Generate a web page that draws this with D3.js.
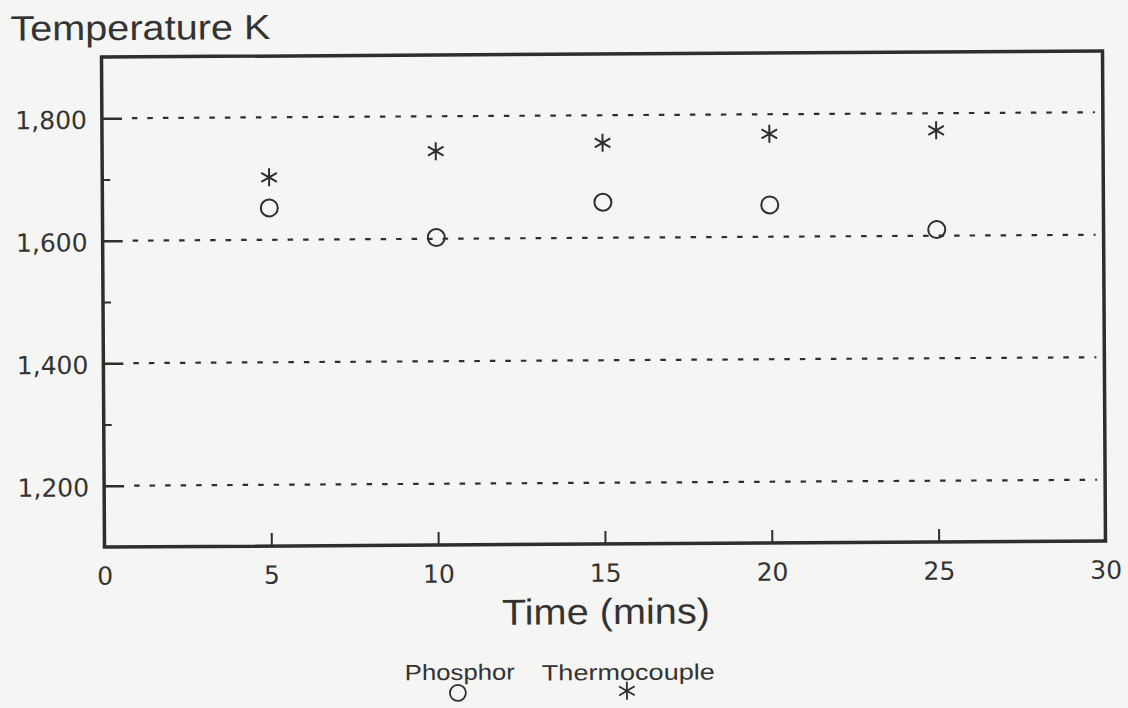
<!DOCTYPE html>
<html>
<head>
<meta charset="utf-8">
<script src="https://cdn.jsdelivr.net/npm/d3@7"></script>
<style>
  html, body { margin: 0; padding: 0; background: #f5f5f4; }
  svg { display: block; }
</style>
</head>
<body>
<svg id="chart" width="1128" height="708"></svg>
<script>
// Measurements: temperature (K) against time (minutes)
const times = [5, 10, 15, 20, 25];
const phosphor = [1652, 1602, 1658, 1652, 1610];
const thermocouple = [1702, 1743, 1755, 1768, 1772];

const xTicks = [0, 5, 10, 15, 20, 25, 30];
const yMajorTicks = [1200, 1400, 1600, 1800];
const yMinorTicks = [1300, 1500, 1700];
const xDomain = [0, 30];
const yDomain = [1100, 1900];

const W = 1128, H = 708;
const plot = { left: 103, right: 1104, top: 54, bottom: 544 };
const ink = "#2e2e2e";
const sans = "'Liberation Sans', Arial, sans-serif";
const tickFont = "'DejaVu Sans', sans-serif";

const x = d3.scaleLinear().domain(xDomain).range([plot.left, plot.right]);
const y = d3.scaleLinear().domain(yDomain).range([plot.bottom, plot.top]);

const svg = d3.select("#chart");
svg.append("rect").attr("width", W).attr("height", H).attr("fill", "#f5f5f4");

// the printed page sits very slightly askew
const g = svg.append("g").attr("transform", "rotate(-0.35 604 300)");

// dotted horizontal guides at the major temperatures
g.append("g").selectAll("line").data(yMajorTicks).join("line")
  .attr("x1", 133).attr("x2", 1096)
  .attr("y1", d => y(d)).attr("y2", d => y(d))
  .attr("stroke", ink).attr("stroke-width", 2.2)
  .attr("stroke-dasharray", "5.5 10");

// y axis: inward major ticks with labels, plus short minor ticks
const yAxis = g.append("g").attr("transform", `translate(${plot.left},0)`)
  .call(d3.axisLeft(y).tickValues(yMajorTicks).tickSizeInner(-20).tickSizeOuter(0)
    .tickPadding(15).tickFormat(d3.format(",")));
yAxis.select(".domain").remove();
yAxis.selectAll(".tick line").attr("stroke", ink).attr("stroke-width", 2.5);
yAxis.selectAll(".tick text")
  .attr("font-family", tickFont).attr("font-size", 25)
  .attr("fill", "#333").attr("dy", "0.4em");

const yMinor = g.append("g").attr("transform", `translate(${plot.left},0)`)
  .call(d3.axisLeft(y).tickValues(yMinorTicks).tickSizeInner(-8).tickSizeOuter(0)
    .tickFormat(""));
yMinor.select(".domain").remove();
yMinor.selectAll(".tick line").attr("stroke", ink).attr("stroke-width", 2);

// x axis: inward ticks with labels below the frame
const xAxis = g.append("g").attr("transform", `translate(0,${plot.bottom})`)
  .call(d3.axisBottom(x).tickValues(xTicks).tickSizeInner(-13).tickSizeOuter(0)
    .tickPadding(20).tickFormat(d3.format("d")));
xAxis.select(".domain").remove();
xAxis.selectAll(".tick line").attr("stroke", ink).attr("stroke-width", 2);
xAxis.selectAll(".tick text")
  .attr("font-family", tickFont).attr("font-size", 25).attr("fill", "#333");

// plot frame
g.append("rect")
  .attr("x", plot.left).attr("y", plot.top)
  .attr("width", plot.right - plot.left).attr("height", plot.bottom - plot.top)
  .attr("fill", "none").attr("stroke", ink).attr("stroke-width", 3.5);

// six-armed asterisk marker
function asterisk(r) {
  const u = r * Math.cos(Math.PI / 6), t = r / 2;
  return `M0,${-r}V${r}M${-u},${-t}L${u},${t}M${-u},${t}L${u},${-t}`;
}

// phosphor readings (open circles)
g.append("g").selectAll("circle").data(times).join("circle")
  .attr("cx", d => x(d)).attr("cy", (d, i) => y(phosphor[i]))
  .attr("r", 8.5).attr("fill", "none").attr("stroke", ink).attr("stroke-width", 2);

// thermocouple readings (asterisks)
g.append("g").selectAll("path").data(times).join("path")
  .attr("transform", (d, i) => `translate(${x(d)},${y(thermocouple[i])})`)
  .attr("d", asterisk(9)).attr("fill", "none")
  .attr("stroke", ink).attr("stroke-width", 2);

// axis titles
g.append("text").attr("x", 12).attr("y", 37)
  .attr("font-family", sans).attr("font-size", 35).attr("fill", "#333")
  .attr("textLength", 260).attr("lengthAdjust", "spacingAndGlyphs")
  .text("Temperature K");

g.append("text").attr("x", 604).attr("y", 624).attr("text-anchor", "middle")
  .attr("font-family", sans).attr("font-size", 36).attr("fill", "#333")
  .attr("textLength", 208).attr("lengthAdjust", "spacingAndGlyphs")
  .text("Time (mins)");

// legend
const legend = g.append("g");
legend.append("text").attr("x", 457.5).attr("y", 679).attr("text-anchor", "middle")
  .attr("font-family", sans).attr("font-size", 22).attr("fill", "#333")
  .attr("textLength", 110).attr("lengthAdjust", "spacingAndGlyphs")
  .text("Phosphor");
legend.append("text").attr("x", 626).attr("y", 680).attr("text-anchor", "middle")
  .attr("font-family", sans).attr("font-size", 22).attr("fill", "#333")
  .attr("textLength", 173).attr("lengthAdjust", "spacingAndGlyphs")
  .text("Thermocouple");
legend.append("circle").attr("cx", 455.5).attr("cy", 692).attr("r", 8)
  .attr("fill", "none").attr("stroke", ink).attr("stroke-width", 1.8);
legend.append("path").attr("transform", "translate(624.5,691)")
  .attr("d", asterisk(9)).attr("fill", "none").attr("stroke", ink).attr("stroke-width", 1.8);
</script>
</body>
</html>
